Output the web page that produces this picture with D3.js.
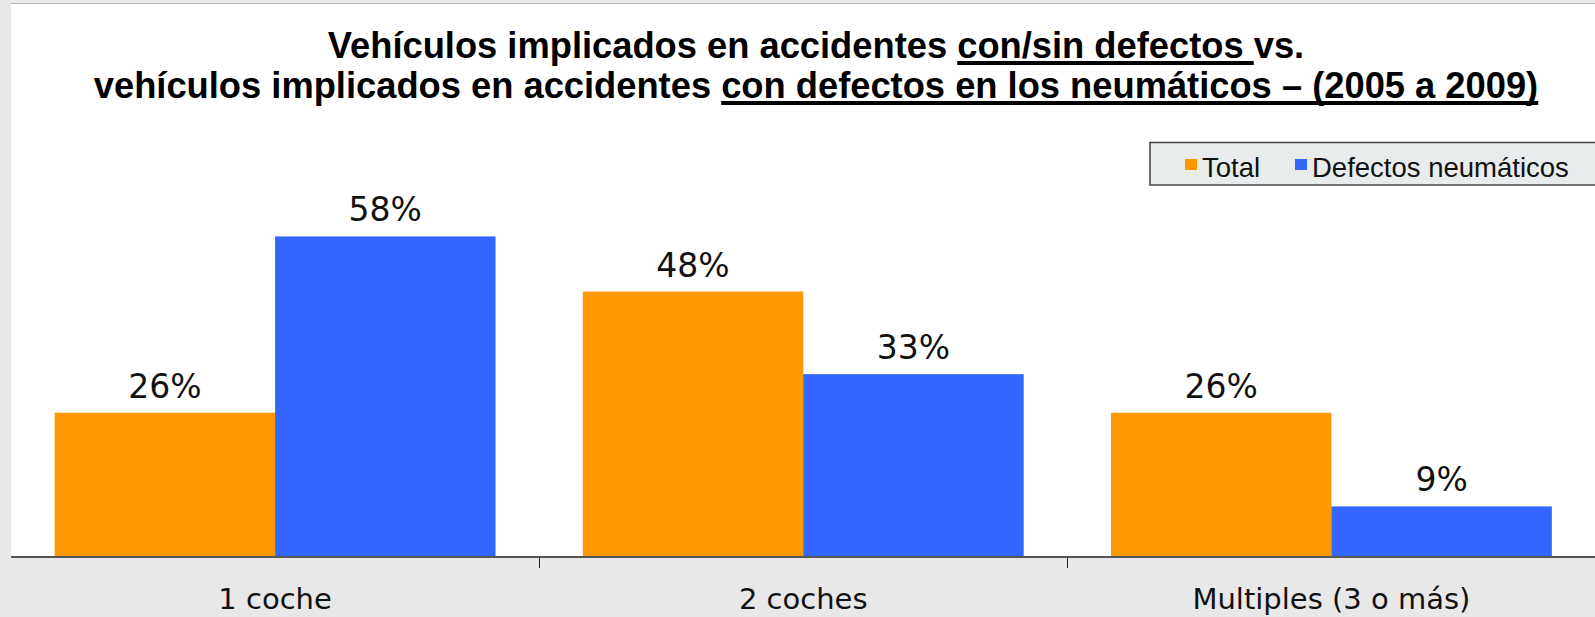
<!DOCTYPE html>
<html>
<head>
<meta charset="utf-8">
<script src="https://cdn.jsdelivr.net/npm/d3@7"></script>
<style>
  body { margin: 0; background: #e8e8e8; }
  svg { display: block; }
</style>
</head>
<body>
<svg id="chart" width="1595" height="617"></svg>
<script>
// data
const categories = ["1 coche", "2 coches", "Multiples (3 o más)"]
const seriesNames = ["Total", "Defectos neumáticos"]
const totalValues = [26, 48, 26]
const tyreValues = [58, 33, 9]
const seriesColors = ["#ff9900", "#3366ff"]

const titleLine1 = [["Vehículos implicados en accidentes ", false], ["con/sin defectos ", true], ["vs.", false]]
const titleLine2 = [["vehículos implicados en accidentes ", false], ["con defectos en los neumáticos – (2005 a 2009)", true]]

const svg = d3.select('#chart')
const W = 1595, H = 617
const left = 11, baseY = 556

// background panel
svg.append('rect').attr('x', 0).attr('y', 0).attr('width', W).attr('height', H).attr('fill', '#e8e8e8')
svg.append('rect').attr('x', left).attr('y', 4).attr('width', W - left).attr('height', baseY - 4).attr('fill', '#fff')
svg.append('line').attr('x1', left).attr('x2', W).attr('y1', 3.5).attr('y2', 3.5).attr('stroke', '#b4b4b4')

const x0 = d3.scaleBand().domain(categories).range([left, 1595.5])
const x1 = d3.scaleBand().domain(seriesNames).range([0, x0.bandwidth()]).paddingOuter(0.198)
const y = d3.scaleLinear().domain([0, 70]).range([baseY, baseY - 5.51 * 70])

const rows = categories.map((c, i) => ({cat: c, vals: [totalValues[i], tyreValues[i]]}))

const groups = svg.selectAll('g.grp')
    .data(rows)
    .enter()
    .append('g')
    .attr('class', 'grp')
    .attr('transform', d => `translate(${x0(d.cat)},0)`)

groups.selectAll('rect')
    .data(d => d.vals.map((v, j) => ({name: seriesNames[j], v: v, j: j})))
    .enter()
    .append('rect')
    .attr('x', d => x1(d.name))
    .attr('y', d => y(d.v))
    .attr('width', x1.bandwidth())
    .attr('height', d => baseY - y(d.v))
    .attr('fill', d => seriesColors[d.j])

groups.selectAll('text.val')
    .data(d => d.vals.map((v, j) => ({name: seriesNames[j], v: v})))
    .enter()
    .append('text')
    .attr('class', 'val')
    .attr('x', d => x1(d.name) + x1.bandwidth() / 2)
    .attr('y', d => y(d.v) - 15)
    .attr('text-anchor', 'middle')
    .attr('font-family', 'DejaVu Sans')
    .attr('font-size', 33)
    .attr('fill', '#111')
    .text(d => d.v + '%')

// x axis
svg.append('rect').attr('x', left).attr('y', baseY).attr('width', W - left).attr('height', 2).attr('fill', '#555')
const xAxis = d3.axisBottom(x0).tickSize(0).tickSizeOuter(0).tickPadding(0)
const ax = svg.append('g').attr('transform', `translate(0,${baseY + 2})`).call(xAxis)
ax.select('.domain').remove()
ax.selectAll('text')
    .attr('font-family', 'DejaVu Sans')
    .attr('font-size', 29)
    .attr('fill', '#111')
    .attr('dy', null)
    .attr('y', 51)
svg.selectAll('line.tick2')
    .data(categories.slice(1))
    .enter()
    .append('line')
    .attr('class', 'tick2')
    .attr('x1', d => Math.round(x0(d)) + 0.5)
    .attr('x2', d => Math.round(x0(d)) + 0.5)
    .attr('y1', baseY + 2)
    .attr('y2', baseY + 12)
    .attr('stroke', '#222')

// legend
const leg = svg.append('g')
leg.append('rect').attr('x', 1150).attr('y', 142.5).attr('width', 460).attr('height', 42.5)
    .attr('fill', '#e9ecec').attr('stroke', '#444').attr('stroke-width', 1.5)
const legX = [1185, 1295]
seriesNames.forEach((n, i) => {
    leg.append('rect').attr('x', legX[i]).attr('y', 159).attr('width', 12).attr('height', 11).attr('fill', seriesColors[i])
    leg.append('text').attr('x', legX[i] + 17).attr('y', 177)
        .attr('font-family', 'Liberation Sans, Arial').attr('font-size', 27.5).attr('fill', '#111')
        .text(n)
})

// title with underlined parts
function titleLine(parts, yPos) {
    const t = svg.append('text')
        .attr('x', 816).attr('y', yPos)
        .attr('text-anchor', 'middle')
        .attr('font-family', 'Liberation Sans, Arial')
        .attr('font-weight', 'bold')
        .attr('font-size', 36.3)
        .attr('fill', '#000')
    parts.forEach(p => t.append('tspan').text(p[0]))
    let idx = 0
    const node = t.node()
    parts.forEach(p => {
        const n = p[0].length
        if (p[1]) {
            const x1p = node.getStartPositionOfChar(idx).x
            const x2p = node.getEndPositionOfChar(idx + n - 1).x
            svg.append('rect').attr('x', x1p).attr('y', yPos + 3).attr('width', x2p - x1p).attr('height', 4).attr('fill', '#000')
        }
        idx += n
    })
}
titleLine(titleLine1, 58)
titleLine(titleLine2, 98)
</script>
</body>
</html>
